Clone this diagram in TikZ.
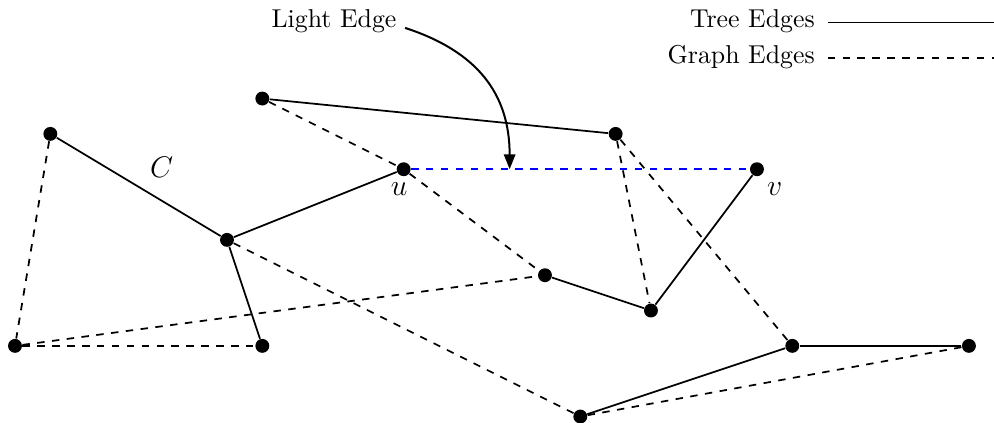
\documentclass[tikz,border=0pt]{standalone}
\usetikzlibrary{arrows.meta}
\begin{document}
\begin{tikzpicture}[x=0.5cm,y=0.5cm,
  dot/.style={circle,fill=black,inner sep=0pt,minimum size=5.6pt},
  tree/.style={line width=0.7pt},
  graphedge/.style={line width=0.7pt,dashed},
  lightedge/.style={line width=0.7pt,dashed,blue},
  lbl/.style={font=\large},
  legtext/.style={anchor=base east,inner sep=0pt,font=\fontsize{10.4pt}{12pt}\selectfont},
  pointer/.style={line width=0.8pt,-{Triangle[length=6pt,width=4.6pt]}}]
\useasboundingbox (-0.425,-2.18) rectangle (27.71,9.79);
% vertices
\node[dot] (A) at (7,7) {};
\node[dot] (B) at (1,6) {};
\node[dot] (D) at (17,6) {};
\node[dot] (u) at (11,5) {};
\node[dot] (v) at (21,5) {};
\node[dot] (E) at (6,3) {};
\node[dot] (F) at (15,2) {};
\node[dot] (G) at (18,1) {};
\node[dot] (H) at (0,0) {};
\node[dot] (I) at (7,0) {};
\node[dot] (J) at (22,0) {};
\node[dot] (K) at (27,0) {};
\node[dot] (L) at (16,-2) {};
% labels
\node[lbl] (Cl) at (4.15,5.05) {$C$};
\node[lbl] (ul) at (10.87,4.45) {$u$};
\node[lbl] (vl) at (21.5,4.45) {$v$};
% graph edges
\draw[graphedge] (A) -- (u);
\draw[graphedge] (u) -- (F);
\draw[graphedge] (D) -- (G);
\draw[graphedge] (D) -- (J);
\draw[graphedge] (B) -- (H);
\draw[graphedge] (H) -- (I);
\draw[graphedge] (H) -- (F);
\draw[graphedge] (E) -- (L);
\draw[graphedge] (L) -- (K);
\draw[lightedge] (u) -- (v);
% tree edges
\draw[tree] (A) -- (D);
\draw[tree] (B) -- (E);
\draw[tree] (E) -- (u);
\draw[tree] (E) -- (I);
\draw[tree] (F) -- (G);
\draw[tree] (G) -- (v);
\draw[tree] (J) -- (K);
\draw[tree] (L) -- (J);
% light edge pointer
\node[legtext] (light) at (10.81,9) {Light Edge};
\coordinate (ls) at (11.04,9.0);
\path (u.center) -- (v.center) coordinate[pos=0.3] (lp);
\draw[pointer] (ls) to[out=-18,in=90,looseness=1.1] (lp);
% legend
\node[legtext] (tl) at (22.65,9) {Tree Edges};
\coordinate (t1) at (23.0,9.15);
\coordinate (t2) at (27.71,9.15);
\draw[tree] (t1) -- (t2);
\node[legtext] (gl) at (22.65,8) {Graph Edges};
\coordinate (g1) at (23.0,8.15);
\coordinate (g2) at (27.71,8.15);
\draw[graphedge] (g1) -- (g2);
\end{tikzpicture}
\end{document}
